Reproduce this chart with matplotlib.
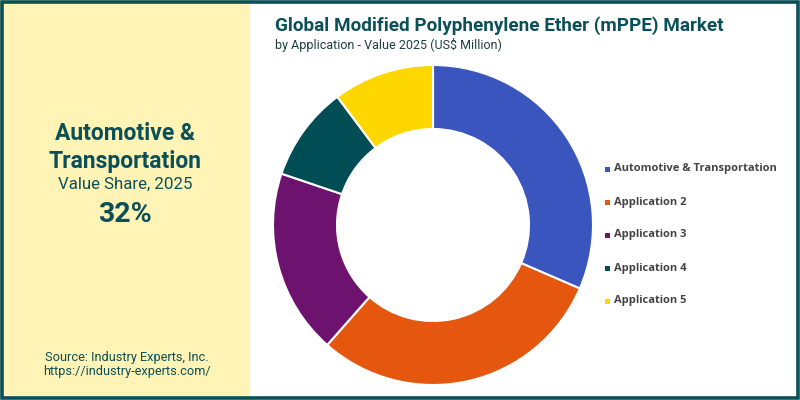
import matplotlib.pyplot as plt
from matplotlib.patches import Rectangle

# data
applications = ['Automotive & Transportation', 'Application 2', 'Application 3',
                'Application 4', 'Application 5']
shares = [31.5, 30.0, 18.7, 9.6, 10.2]
colors = ['#3A55BD', '#E5570F', '#6D126E', '#004D55', '#FFD700']
highlight_name = ['Automotive &', 'Transportation']
highlight_share = '32%'

teal = '#0B5058'
plt.rcParams['font.family'] = ['Roboto', 'DejaVu Sans']

fig = plt.figure(figsize=(8, 4), dpi=100)
fig.patch.set_facecolor('white')

# left info panel
fig.patches.append(Rectangle((0, 0), 250 / 800, 1, transform=fig.transFigure,
                             facecolor='#FFF3B5', edgecolor='none', zorder=0))
# outer frame
fig.patches.append(Rectangle((0.002, 0.004), 0.995, 0.991, transform=fig.transFigure,
                             facecolor='none', edgecolor=teal, lw=2.6, zorder=5))

fig.text(125 / 800, 1 - 134 / 400, highlight_name[0], ha='center', va='center',
         fontsize=16.5, fontweight='bold', color=teal)
fig.text(125 / 800, 1 - 161 / 400, highlight_name[1], ha='center', va='center',
         fontsize=16.5, fontweight='bold', color=teal)
fig.text(125 / 800, 1 - 184 / 400, 'Value Share, 2025', ha='center', va='center',
         fontsize=12.2, color=teal)
fig.text(125 / 800, 1 - 215 / 400, highlight_share, ha='center', va='center',
         fontsize=20.5, fontweight='bold', color=teal)
fig.text(127 / 800, 1 - 357 / 400, 'Source: Industry Experts, Inc.', ha='center', va='center',
         fontsize=9.2, color=teal)
fig.text(127 / 800, 1 - 372 / 400, 'https://industry-experts.com/', ha='center', va='center',
         fontsize=9.2, color=teal)

# title
fig.text(275 / 800, 1 - 26 / 400, 'Global Modified Polyphenylene Ether (mPPE) Market',
         ha='left', va='center', fontsize=13.6, fontweight='bold', color=teal)
fig.text(275 / 800, 1 - 45 / 400, 'by Application - Value 2025 (US$ Million)',
         ha='left', va='center', fontsize=9, color='#1f3f44')

# donut
cx, cy, r = 433, 225, 160
ax = fig.add_axes([(cx - r) / 800, (400 - cy - r) / 400, 2 * r / 800, 2 * r / 400])
ax.pie(shares, colors=colors, startangle=90, counterclock=False, radius=1,
       wedgeprops=dict(width=0.4, edgecolor='white', linewidth=1.5))
ax.set_xlim(-1, 1)
ax.set_ylim(-1, 1)
ax.set_aspect('equal')
ax.axis('off')

# legend
for i, (name, c) in enumerate(zip(applications, colors)):
    y = 1 - (169 + 33 * i) / 400
    fig.patches.append(Rectangle((605 / 800, y - 2.5 / 400), 5 / 800, 5 / 400,
                                 transform=fig.transFigure, facecolor=c, edgecolor='none'))
    fig.text(614 / 800, y, name, ha='left', va='center', fontsize=8,
             fontweight='bold', color='#444444', family=['Open Sans', 'DejaVu Sans'])

fig.savefig('out.png', dpi=100)
